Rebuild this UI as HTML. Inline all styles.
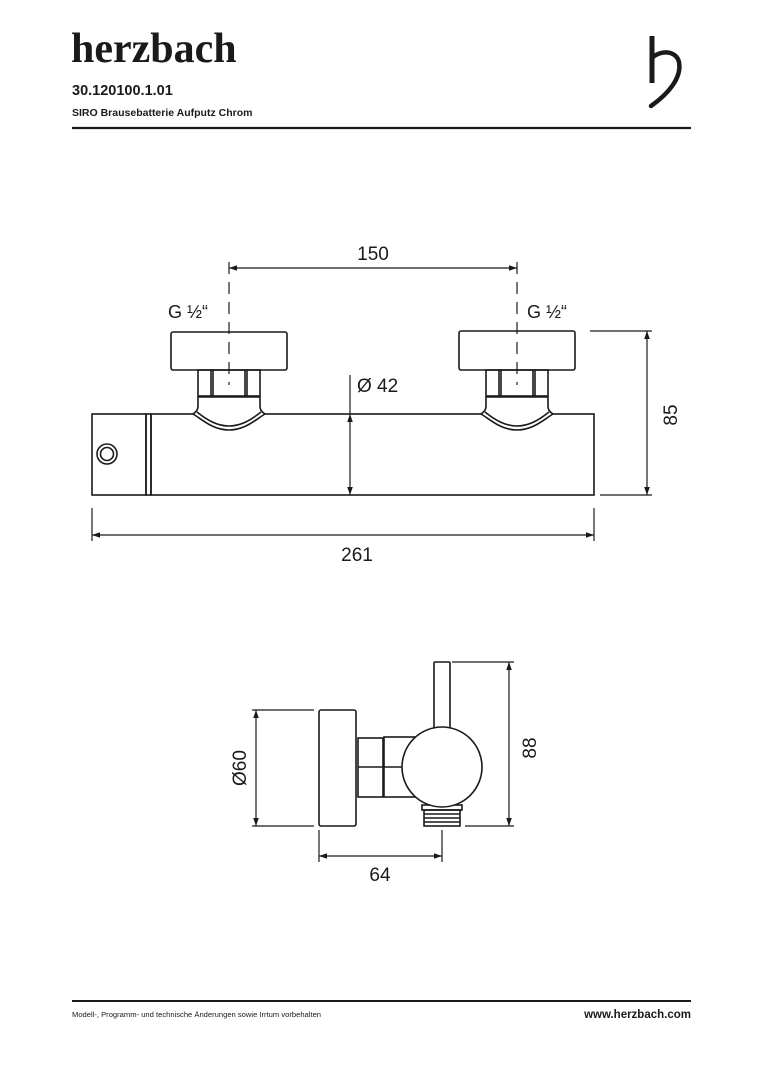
<!DOCTYPE html>
<html><head><meta charset="utf-8"><style>
html,body{margin:0;padding:0;background:#fff;}
svg{display:block;}
text{font-family:"Liberation Sans",sans-serif;fill:#1a1a1a;}
</style></head><body>
<svg width="764" height="1080" viewBox="0 0 764 1080" xmlns="http://www.w3.org/2000/svg">
<defs>
<marker id="a" viewBox="0 0 10 10" refX="10" refY="5" markerWidth="8" markerHeight="8" orient="auto-start-reverse" markerUnits="userSpaceOnUse"><path d="M0,1.5 L10,5 L0,8.5 Z" fill="#1a1a1a"/></marker>
</defs>
<!-- header -->
<text x="71" y="62" font-size="42" font-weight="bold" style="font-family:'Liberation Serif',serif">herzbach</text>
<text x="72" y="95" font-size="14.5" font-weight="bold">30.120100.1.01</text>
<text x="72" y="116" font-size="10.5" font-weight="bold">SIRO Brausebatterie Aufputz Chrom</text>
<line x1="72" y1="128" x2="691" y2="128" stroke="#1a1a1a" stroke-width="2.2"/>
<path d="M652,36 L652,83" fill="none" stroke="#1a1a1a" stroke-width="5"/>
<path d="M652,58 C660,50 676,50 679,62 C682,78 668,94 651,106" fill="none" stroke="#1a1a1a" stroke-width="4.5" stroke-linecap="round"/>

<g stroke="#1a1a1a" fill="none" stroke-width="1.6">
<rect x="92" y="414" width="54" height="81"/>
<rect x="146" y="414" width="5" height="81"/>
<rect x="151" y="414" width="443" height="81"/>
<circle cx="107" cy="454" r="10"/>
<circle cx="107" cy="454" r="6.5"/>
<rect x="171" y="332" width="116" height="38" rx="2"/>
<rect x="198" y="370" width="62" height="26"/>
<line x1="211" y1="370" x2="211" y2="396"/><line x1="247" y1="370" x2="247" y2="396"/>
<line x1="213" y1="370" x2="213" y2="396"/><line x1="245" y1="370" x2="245" y2="396"/>
<path d="M198,397 L260,397 L260,406 C260,410 262,412 265,414 C255,420 245,430 229,430 C213,430 203,420 193,414 C196,412 198,410 198,406 Z" fill="#fff"/>
<path d="M197,412 C207,420 217,426 229,426 C241,426 251,420 261,412"/>
<rect x="459" y="331" width="116" height="39" rx="2"/>
<rect x="486" y="370" width="62" height="26"/>
<line x1="499" y1="370" x2="499" y2="396"/><line x1="535" y1="370" x2="535" y2="396"/>
<line x1="501" y1="370" x2="501" y2="396"/><line x1="533" y1="370" x2="533" y2="396"/>
<path d="M486,397 L548,397 L548,406 C548,410 550,412 553,414 C543,420 533,430 517,430 C501,430 491,420 481,414 C484,412 486,410 486,406 Z" fill="#fff"/>
<path d="M485,412 C495,420 505,426 517,426 C529,426 539,420 549,412"/>
</g>
<g stroke="#1a1a1a" fill="none" stroke-width="1.2">
<line x1="229" y1="262" x2="229" y2="385" stroke-dasharray="12,8"/>
<line x1="517" y1="262" x2="517" y2="385" stroke-dasharray="12,8"/>
<line x1="229" y1="268" x2="517" y2="268" marker-start="url(#a)" marker-end="url(#a)"/>
<line x1="590" y1="331" x2="652" y2="331"/>
<line x1="600" y1="495" x2="652" y2="495"/>
<line x1="647" y1="331" x2="647" y2="495" marker-start="url(#a)" marker-end="url(#a)"/>
<line x1="350" y1="375" x2="350" y2="414"/>
<line x1="350" y1="414" x2="350" y2="495" marker-start="url(#a)" marker-end="url(#a)"/>
<line x1="92" y1="508" x2="92" y2="541"/>
<line x1="594" y1="508" x2="594" y2="541"/>
<line x1="92" y1="535" x2="594" y2="535" marker-start="url(#a)" marker-end="url(#a)"/>
</g>
<text x="373" y="260" font-size="19" text-anchor="middle">150</text>
<text x="168" y="318" font-size="18">G ½“</text>
<text x="527" y="318" font-size="18">G ½“</text>
<text x="357" y="392" font-size="19">Ø 42</text>
<text x="357" y="561" font-size="19" text-anchor="middle">261</text>
<text x="670" y="415" font-size="19" text-anchor="middle" transform="rotate(-90 670 415)" dy="7">85</text>

<g stroke="#1a1a1a" fill="none" stroke-width="1.6">
<rect x="319" y="710" width="37" height="116" rx="2"/>
<rect x="358" y="738" width="25" height="59"/>
<line x1="358" y1="767" x2="383" y2="767"/>
<rect x="384" y="737" width="32" height="60"/>
<line x1="384" y1="767" x2="404" y2="767"/>
<path d="M416,740 C402,755 402,782 418,797"/>
<rect x="434" y="662" width="16" height="66" rx="1"/>
<rect x="422" y="805" width="40" height="5"/>
<rect x="424" y="810" width="36" height="16"/>
<line x1="424" y1="814" x2="460" y2="814"/><line x1="424" y1="818" x2="460" y2="818"/><line x1="424" y1="822" x2="460" y2="822"/>
<circle cx="442" cy="767" r="40" fill="#fff"/>
</g>
<g stroke="#1a1a1a" fill="none" stroke-width="1.2">
<line x1="252" y1="710" x2="314" y2="710"/>
<line x1="252" y1="826" x2="314" y2="826"/>
<line x1="256" y1="710" x2="256" y2="826" marker-start="url(#a)" marker-end="url(#a)"/>
<line x1="452" y1="662" x2="514" y2="662"/>
<line x1="465" y1="826" x2="514" y2="826"/>
<line x1="509" y1="662" x2="509" y2="826" marker-start="url(#a)" marker-end="url(#a)"/>
<line x1="319" y1="830" x2="319" y2="862"/>
<line x1="442" y1="830" x2="442" y2="862"/>
<line x1="319" y1="856" x2="442" y2="856" marker-start="url(#a)" marker-end="url(#a)"/>
</g>
<text x="239" y="768" font-size="19" text-anchor="middle" transform="rotate(-90 239 768)" dy="7">Ø60</text>
<text x="529" y="748" font-size="19" text-anchor="middle" transform="rotate(-90 529 748)" dy="7">88</text>
<text x="380" y="881" font-size="19" text-anchor="middle">64</text>

<line x1="72" y1="1001" x2="691" y2="1001" stroke="#1a1a1a" stroke-width="2"/>
<text x="72" y="1017" font-size="7.6">Modell-, Programm- und technische Änderungen sowie Irrtum vorbehalten</text>
<text x="691" y="1018" font-size="11.5" font-weight="bold" text-anchor="end">www.herzbach.com</text>
</svg>
</body></html>
